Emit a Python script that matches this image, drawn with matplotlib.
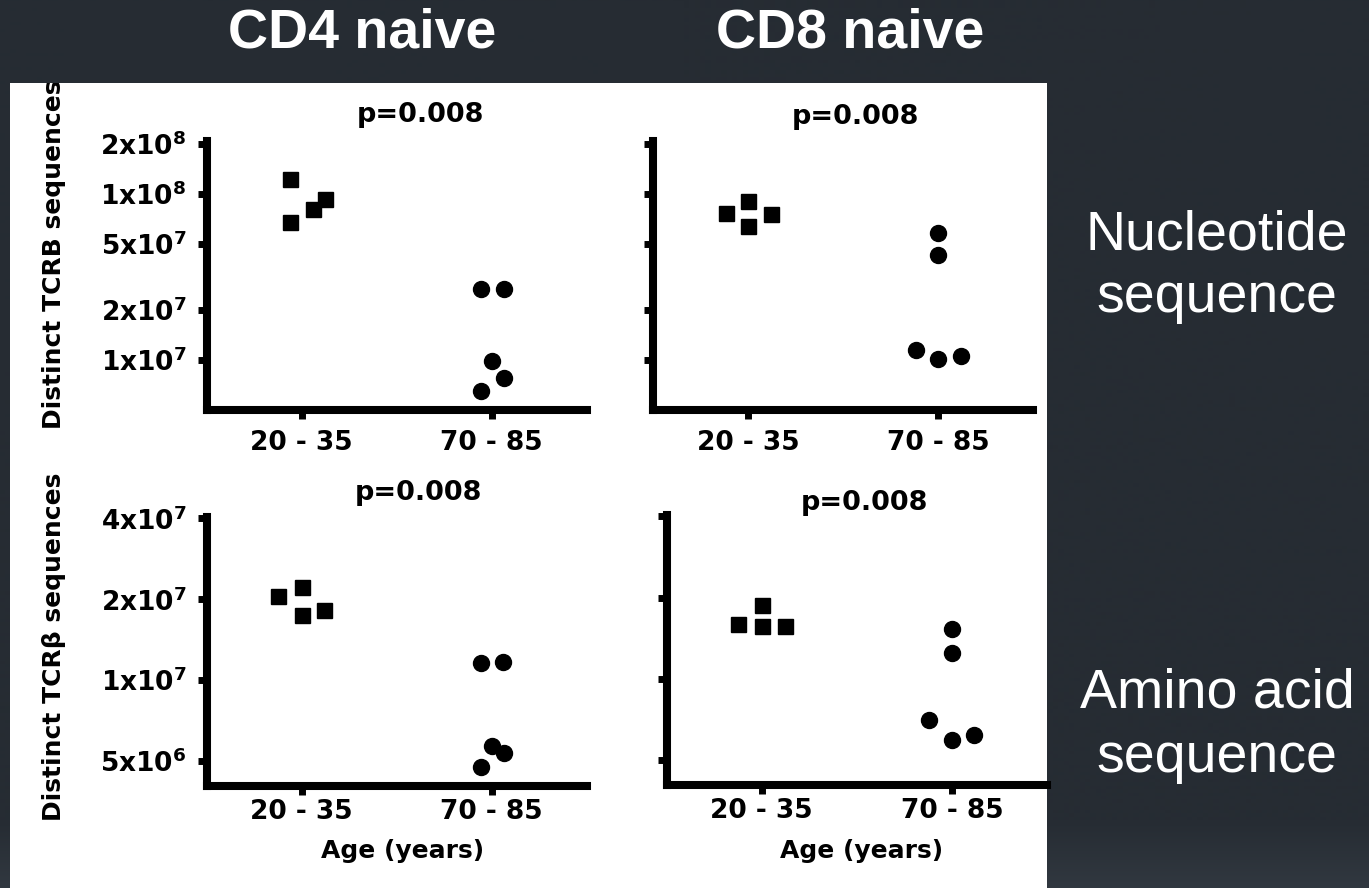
import numpy as np
import matplotlib
matplotlib.use('Agg')
import matplotlib.pyplot as plt
from matplotlib.patches import Rectangle

W, H = 1369, 888
dark = '#262c33'

# distinct TCRB sequence counts per donor, young (20-35) vs old (70-85)
groups = ['20 - 35', '70 - 85']

cd4_nt_young = [1.23e8, 6.8e7, 8.1e7, 9.3e7]
cd4_nt_old = [2.68e7, 2.68e7, 9.8e6, 7.8e6, 6.5e6]
cd8_nt_young = [7.7e7, 9.0e7, 6.4e7, 7.6e7]
cd8_nt_old = [5.8e7, 4.3e7, 1.15e7, 1.01e7, 1.06e7]
cd4_aa_young = [2.06e7, 2.22e7, 1.74e7, 1.82e7]
cd4_aa_old = [1.16e7, 1.17e7, 5.7e6, 5.35e6, 4.75e6]
cd8_aa_young = [1.59e7, 1.88e7, 1.57e7, 1.57e7]
cd8_aa_old = [1.53e7, 1.24e7, 7.0e6, 5.9e6, 6.2e6]

# horizontal scatter of points inside each column
cd4_nt_jit = ([-0.062, -0.062, 0.058, 0.12], [-0.058, 0.065, 0.0, 0.065, -0.058])
cd8_nt_jit = ([-0.12, 0.0, 0.0, 0.12], [0.0, 0.0, -0.12, 0.0, 0.12])
cd4_aa_jit = ([-0.123, 0.0, 0.0, 0.118], [-0.058, 0.062, 0.0, 0.065, -0.058])
cd8_aa_jit = ([-0.123, 0.0, 0.0, 0.12], [0.0, 0.0, -0.12, 0.0, 0.115])

nt_ticks = [2e8, 1e8, 5e7, 2e7, 1e7]
nt_labels = ['$2x10^{8}$', '$1x10^{8}$', '$5x10^{7}$', '$2x10^{7}$', '$1x10^{7}$']
aa_ticks = [4e7, 2e7, 1e7, 5e6]
aa_labels = ['$4x10^{7}$', '$2x10^{7}$', '$1x10^{7}$', '$5x10^{6}$']

pval = 'p=0.008'

plt.rcParams['mathtext.default'] = 'bf'
plt.rcParams['mathtext.fontset'] = 'dejavusans'

fig = plt.figure(figsize=(W/100.0, H/100.0), dpi=100, facecolor=dark)

def fx(px): return px/float(W)
def fy(py): return 1.0 - py/float(H)

# background with a slightly lighter band at the bottom
bg = fig.add_axes([0, 0, 1, 1], zorder=-10)
grad = np.ones((H, 1))
grad[820:, 0] = np.linspace(1, 0, H-820)
grad = grad[:, :, None]*np.array([38, 44, 51])/255.0 + (1-grad[:, :, None])*np.array([49, 56, 64])/255.0
bg.imshow(grad, aspect='auto', extent=[0, 1, 0, 1])
bg.axis('off')

sheet = Rectangle((fx(10), 0), fx(1047)-fx(10), fy(83), transform=fig.transFigure,
                  facecolor='white', edgecolor='none', zorder=-5)
fig.patches.append(sheet)

def panel(box, young, old, jit, ylim, ticks, labels, xpad):
    l, t, r, b = box
    ax = fig.add_axes([fx(l), fy(b), fx(r)-fx(l), fy(t)-fy(b)])
    ax.set_facecolor('none')
    ax.plot(np.array(jit[0]), young, 's', color='black', markersize=10.8, linestyle='none', clip_on=False)
    ax.plot(1+np.array(jit[1]), old, 'o', color='black', markersize=11.5, linestyle='none', clip_on=False)
    ax.set_yscale('log')
    ax.set_ylim(ylim)
    ax.set_xlim(-0.5, 1.5)
    ax.set_yticks(ticks)
    ax.set_yticklabels(labels if labels else ['']*len(ticks), fontsize=19, fontweight='bold')
    ax.yaxis.set_minor_locator(matplotlib.ticker.NullLocator())
    ax.set_xticks([0, 1])
    ax.set_xticklabels(groups, fontsize=19, fontweight='bold')
    for s in ['top', 'right']:
        ax.spines[s].set_visible(False)
    for s in ['left', 'bottom']:
        ax.spines[s].set_linewidth(5.8)
    ax.tick_params(axis='both', length=6.5, width=5, direction='out', color='black')
    ax.tick_params(axis='y', pad=8)
    ax.tick_params(axis='x', pad=xpad)
    return ax

nt_lim = (5e6, 2.08e8)
aa_lim = (4.03e6, 4.05e7)
panel([206.7, 141, 586.7, 410], cd4_nt_young, cd4_nt_old, cd4_nt_jit, nt_lim, nt_ticks, nt_labels, 8)
panel([653.3, 141, 1033.3, 410], cd8_nt_young, cd8_nt_old, cd8_nt_jit, nt_lim, nt_ticks, None, 8)
panel([206.7, 517, 586.7, 786], cd4_aa_young, cd4_aa_old, cd4_aa_jit, aa_lim, aa_ticks, aa_labels, 3)
panel([666.7, 515, 1047, 785], cd8_aa_young, cd8_aa_old, cd8_aa_jit, aa_lim, aa_ticks, None, 3)

# p values above each panel
for x, y in [(420, 115), (855, 117), (418, 493), (864, 503)]:
    fig.text(fx(x), fy(y), pval, ha='center', va='center', fontsize=19.5, fontweight='bold')

# y labels are cut off by the edge of the white sheet
yl1 = fig.text(fx(54), fy(254), 'Distinct TCRB sequences', rotation=90, ha='center', va='center',
               fontsize=18, fontweight='bold')
yl1.set_clip_path(sheet)
fig.text(fx(54), fy(647), 'Distinct TCR\u03b2 sequences', rotation=90, ha='center', va='center',
         fontsize=18, fontweight='bold')
fig.text(fx(403), fy(851), 'Age (years)', ha='center', va='center', fontsize=18, fontweight='bold')
fig.text(fx(862), fy(851), 'Age (years)', ha='center', va='center', fontsize=18, fontweight='bold')

# slide headings
fig.text(fx(362), fy(33), 'CD4 naive', ha='center', va='center', color='white',
         fontsize=40, fontweight='bold', family='Liberation Sans')
fig.text(fx(850), fy(33), 'CD8 naive', ha='center', va='center', color='white',
         fontsize=40, fontweight='bold', family='Liberation Sans')
for txt, y in [('Nucleotide', 235), ('sequence', 298), ('Amino acid', 693), ('sequence', 758)]:
    fig.text(fx(1217), fy(y), txt, ha='center', va='center', color='white',
             fontsize=40, family='Liberation Sans')

fig.savefig('out.png', dpi=100, facecolor=dark)
